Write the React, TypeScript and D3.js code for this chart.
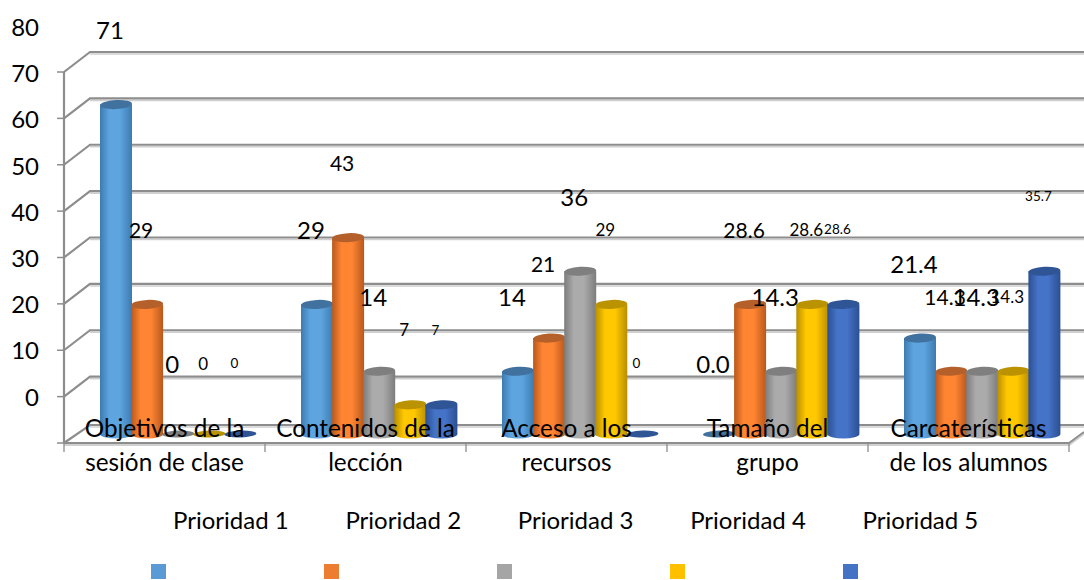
import React from "react";
import * as d3 from "d3";

const categories = [
  ["Objetivos de la", "sesión de clase"],
  ["Contenidos de la", "lección"],
  ["Acceso a los", "recursos"],
  ["Tamaño del", "grupo"],
  ["Carcaterísticas", "de los alumnos"],
];
const seriesNames = ["Prioridad 1", "Prioridad 2", "Prioridad 3", "Prioridad 4", "Prioridad 5"];
const prioridad1 = [71.4, 28.6, 14.3, 0, 21.4];
const prioridad2 = [28.6, 42.9, 21.4, 28.6, 14.3];
const prioridad3 = [0, 14.3, 35.7, 14.3, 14.3];
const prioridad4 = [0, 7.1, 28.6, 28.6, 14.3];
const prioridad5 = [0, 7.1, 0, 28.6, 35.7];
const labels1 = ["71", "29", "14", "0.0", "21.4"];
const labels2 = ["29", "43", "21", "28.6", "14.3"];
const labels3 = ["0", "14", "36", "14.3", "14.3"];
const labels4 = ["0", "7", "29", "28.6", "14.3"];
const labels5 = ["0", "7", "0", "28.6", "35.7"];
const tickLabels = [80, 70, 60, 50, 40, 30, 20, 10, 0];

const allValues = [prioridad1, prioridad2, prioridad3, prioridad4, prioridad5];
const allLabels = [labels1, labels2, labels3, labels4, labels5];
const mid = ["#5ea5e0", "#ff8533", "#ababab", "#ffc800", "#4473c8"];
const edge = ["#3d7bb0", "#b9581c", "#7c7c7c", "#b88e00", "#2c4f92"];
const cap = ["#41729f", "#b5602a", "#7f7f7f", "#bb9200", "#2f5597"];
const legendCol = ["#5b9bd5", "#ed7d31", "#a5a5a5", "#ffc000", "#4472c4"];
const labelSize = [24, 21, 24, 17, 13.5];

const FONT = "Lato, 'Open Sans', sans-serif";
const GRID = "#8d8d8d";

export default function App() {
  const W = 1084, H = 580;
  const floorFront = 443, backDy = 18, backDx = 26, left = 64, groupW = 201;
  const y = d3.scaleLinear().domain([0, 80]).range([floorFront, 72]);
  const baseY = 434;
  const vy = d3.scaleLinear().domain([0, 80]).range([438, 438 - 4.67 * 80]);
  const x0 = d3.scaleBand<number>().domain(d3.range(5)).range([left, left + 5 * groupW]);
  const xs = d3.scaleBand<number>().domain(d3.range(5)).range([0, 155]);
  const barW = 32, rx = 16, ry = 4.5;
  const barX = (g: number, s: number) => (x0(g) as number) + 36 + (xs(s) as number) + s * 0.1;

  const gridVals = d3.range(0, 81, 10);
  return (
    <svg width={W} height={H} viewBox={`0 0 ${W} ${H}`} style={{ position: "absolute", left: 0, top: 0, background: "#fff" }} fontFamily={FONT}>
      <defs>
        {mid.map((c, i) => (
          <linearGradient key={i} id={`g${i}`} x1="0" x2="1" y1="0" y2="0">
            <stop offset="0" stopColor={edge[i]} />
            <stop offset="0.3" stopColor={c} />
            <stop offset="0.62" stopColor={c} />
            <stop offset="1" stopColor={edge[i]} />
          </linearGradient>
        ))}
      </defs>
      {gridVals.map((v) => {
        const yy = y(v);
        const by = yy - (v === 0 ? backDy : 20);
        return (
          <g key={v} fill="none">
            <path d={`M${left + backDx},${by + 2}H${W}`} stroke="#cfcfcf" strokeWidth={1.5} />
            <path d={`M${left},${yy}L${left + backDx},${by}H${W}`} stroke={GRID} strokeWidth={2.2} />
            <path d={`M${left - 7},${yy}H${left}`} stroke={GRID} strokeWidth={1.5} />
          </g>
        );
      })}
      <path d={`M${left},${y(80)}V${floorFront}`} stroke={GRID} strokeWidth={2.2} fill="none" />
      <path d={`M${left},${floorFront + 1.5}H1069L${W},${floorFront - 10}`} stroke="#d0d0d0" strokeWidth={3} fill="none" />
      <path d={`M${left},${floorFront}H1069L${W},${floorFront - 11}`} stroke={GRID} strokeWidth={1.8} fill="none" />
      {d3.range(6).map((i) => (
        <path key={i} d={`M${left + i * groupW},${floorFront}v9`} stroke={GRID} strokeWidth={1.3} fill="none" />
      ))}
      {allValues.map((vals, s) =>
        vals.map((v, g) => {
          const bx = barX(g, s), top = vy(v), cx = bx + barW / 2;
          const tilt = `rotate(-3 ${cx} ${top})`;
          if (v === 0) {
            return <ellipse key={`${s}-${g}`} cx={cx} cy={baseY} rx={rx} ry={3.5} fill={cap[s]} transform={`rotate(-2 ${cx} ${baseY})`} />;
          }
          return (
            <g key={`${s}-${g}`}>
              <path d={`M${bx},${top}V${baseY}A${rx},${ry} 0 0 0 ${bx + barW},${baseY}V${top}Z`} fill={`url(#g${s})`} />
              <ellipse cx={cx} cy={top} rx={rx} ry={ry} fill={cap[s]} transform={tilt} />
            </g>
          );
        })
      )}
      {allLabels.map((lab, s) =>
        lab.map((t, g) => (
          <text key={`${s}-${g}`} x={barX(g, s) + barW / 2 - 6} y={vy(allValues[s][g]) - 75} fontSize={labelSize[s]} textAnchor="middle" dominantBaseline="central" fill="#000">
            {t}
          </text>
        ))
      )}
      {tickLabels.map((t, i) => (
        <text key={t} x={39} y={26.5 + i * 46.2} fontSize={24} textAnchor="end" dominantBaseline="central" fill="#000">
          {t}
        </text>
      ))}
      {categories.map((lines, g) =>
        lines.map((l, k) => (
          <text key={`${g}-${k}`} x={(x0(g) as number) + groupW / 2} y={427 + k * 34} fontSize={24.3} textAnchor="middle" dominantBaseline="central" fill="#000">
            {l}
          </text>
        ))
      )}
      {seriesNames.map((n, i) => (
        <g key={n}>
          <text x={173 + i * 172.4} y={519} fontSize={24} dominantBaseline="central" fill="#000">{n}</text>
          <rect x={151 + i * 173} y={564} width={15} height={15} fill={legendCol[i]} />
        </g>
      ))}
    </svg>
  );
}
